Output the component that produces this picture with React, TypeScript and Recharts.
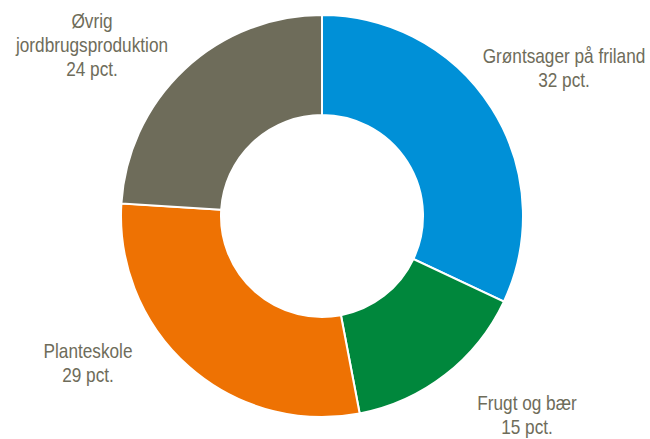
import React from "react";
import { PieChart, Pie, Cell } from "recharts";

const categories = ["Grøntsager på friland", "Frugt og bær", "Planteskole", "Øvrig\njordbrugsproduktion"];
const shares = [32, 15, 29, 24];
const colors = ["#0090D7", "#00873C", "#EE7203", "#6E6C5A"];

const data = categories.map((name, i) => ({ name, value: shares[i] }));

// label block centre, offset from the pie centre
const labelOffset = [
  [242, -149],
  [205, 198],
  [-234, 146],
  [-230, -172],
];

const renderLabel = (props: any) => {
  const { cx, cy, index } = props;
  const x = cx + labelOffset[index][0];
  const y = cy + labelOffset[index][1];
  const lines = [...data[index].name.split("\n"), `${data[index].value} pct.`];
  const lh = 24;
  const startY = y - ((lines.length - 1) * lh) / 2;
  return (
    <text
      x={x}
      y={startY}
      textAnchor="middle"
      dominantBaseline="central"
      fill="#6E6C5A"
      transform={`translate(${x},0) scale(0.82,1) translate(${-x},0)`}
      style={{ fontFamily: "'Liberation Sans', Arial, sans-serif", fontSize: 21 }}
    >
      {lines.map((l, i) => (
        <tspan key={i} x={x} dy={i === 0 ? 0 : lh}>
          {l}
        </tspan>
      ))}
    </text>
  );
};

export default function App() {
  return (
    <div style={{ position: "absolute", left: 0, top: 0, width: 650, height: 439, background: "#fff" }}>
      <PieChart width={650} height={439} margin={{ top: 0, right: 0, bottom: 0, left: 0 }}>
        <Pie
          data={data}
          dataKey="value"
          cx={322}
          cy={216}
          innerRadius={101}
          outerRadius={201}
          startAngle={90}
          endAngle={-270}
          stroke="#fff"
          strokeWidth={2}
          label={renderLabel}
          labelLine={false}
          isAnimationActive={false}
        >
          {data.map((d, i) => (
            <Cell key={d.name} fill={colors[i]} />
          ))}
        </Pie>
      </PieChart>
    </div>
  );
}
